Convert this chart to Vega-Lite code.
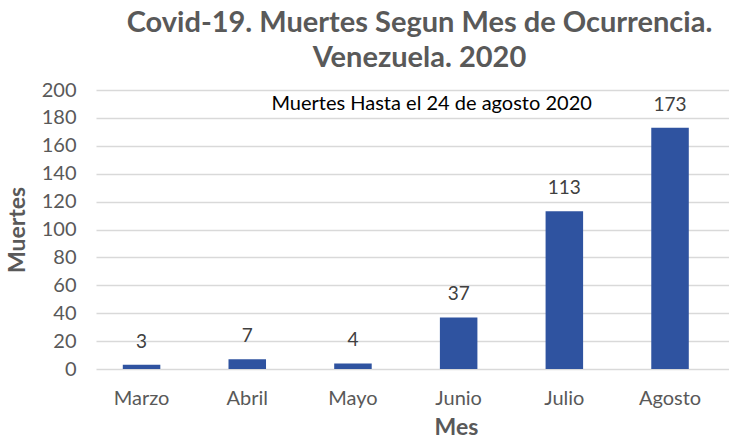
{
  "$schema": "https://vega.github.io/schema/vega-lite/v6.json",
  "width": 633,
  "height": 279,
  "padding": {"left": 6, "top": 9, "right": 0, "bottom": 0},
  "background": "white",
  "config": {"view": {"stroke": null}, "font": "Lato"},
  "title": {
    "text": ["Covid-19. Muertes Segun Mes de Ocurrencia.", "Venezuela. 2020"],
    "font": "Lato",
    "fontSize": 29,
    "fontWeight": "bold",
    "color": "#595959",
    "anchor": "middle",
    "dx": 7,
    "lineHeight": 35,
    "offset": 7
  },
  "datasets": {
    "muertes": [
      {"mes": "Marzo", "muertes": 3},
      {"mes": "Abril", "muertes": 7},
      {"mes": "Mayo", "muertes": 4},
      {"mes": "Junio", "muertes": 37},
      {"mes": "Julio", "muertes": 113},
      {"mes": "Agosto", "muertes": 173}
    ],
    "nota": [
      {"mes": "Junio", "muertes": 190, "texto": "Muertes Hasta el 24 de agosto 2020"}
    ]
  },
  "encoding": {
    "x": {
      "field": "mes",
      "type": "nominal",
      "sort": ["Marzo", "Abril", "Mayo", "Junio", "Julio", "Agosto"],
      "scale": {"paddingInner": 0.645, "paddingOuter": 0.317, "align": 0.4},
      "axis": {
        "title": "Mes",
        "titleFont": "Lato",
        "titleFontSize": 23,
        "titleFontWeight": "bold",
        "titleColor": "#595959",
        "titleX": 360,
        "titlePadding": 8,
        "labelAngle": 0,
        "labelFont": "Lato",
        "labelFontSize": 20,
        "labelColor": "#595959",
        "labelPadding": 19,
        "ticks": false,
        "domain": false,
        "grid": false
      }
    },
    "y": {
      "field": "muertes",
      "type": "quantitative",
      "scale": {"domain": [0, 200]},
      "axis": {
        "title": "Muertes",
        "titleFont": "Lato",
        "titleFontSize": 23,
        "titleFontWeight": "bold",
        "titleColor": "#595959",
        "titlePadding": 12,
        "values": [0, 20, 40, 60, 80, 100, 120, 140, 160, 180, 200],
        "labelFont": "Lato",
        "labelFontSize": 20,
        "labelColor": "#595959",
        "labelPadding": 20,
        "ticks": false,
        "domain": false,
        "grid": true,
        "gridColor": "#d9d9d9",
        "gridWidth": 1.5
      }
    }
  },
  "layer": [
    {
      "data": {"name": "muertes"},
      "mark": {"type": "bar", "color": "#2F53A0"}
    },
    {
      "data": {"name": "muertes"},
      "mark": {"type": "text", "baseline": "bottom", "dy": -13, "fontSize": 19, "color": "#404040", "font": "Lato"},
      "encoding": {"text": {"field": "muertes", "type": "quantitative"}}
    },
    {
      "data": {"name": "nota"},
      "mark": {"type": "text", "baseline": "middle", "dx": -27, "fontSize": 20, "color": "#000000", "font": "Lato"},
      "encoding": {"text": {"field": "texto", "type": "nominal"}}
    }
  ]
}
